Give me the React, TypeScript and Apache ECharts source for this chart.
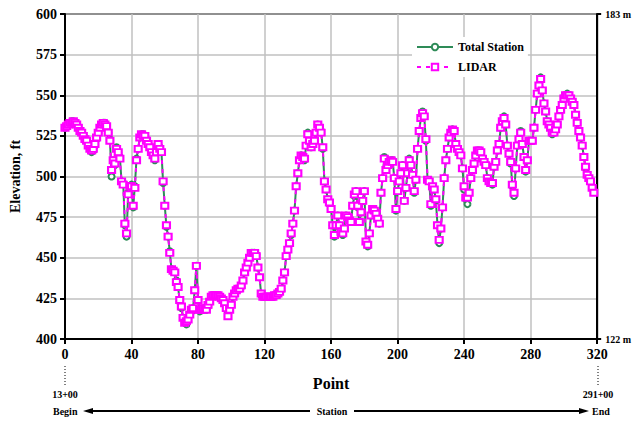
import React, { useEffect, useRef } from "react";
import * as echarts from "echarts";

// Elevation (ft) per survey point, index = point number
const totalStation: number[] = [
  530, 531, 532, 533, 534, 534, 533, 532, 530, 528,
  527, 525, 524, 522, 520, 517, 515, 516, 519, 523,
  527, 530, 532, 533, 533, 531, 527, 523, 500, 510,
  507, 518, 515, 512, 497, 496, 470, 463, 490, 494,
  495, 481, 494, 511, 517, 524, 526, 526, 525, 523,
  520, 518, 516, 513, 510, 515, 520, 518, 515, 496,
  482, 469, 463, 454, 443, 442, 441, 436, 432, 423,
  419, 413, 410, 409, 412, 415, 417, 419, 430, 445,
  424, 417, 418, 418, 419, 418, 420, 423, 426, 427,
  427, 427, 427, 426, 425, 424, 422, 420, 416, 418,
  421, 426, 428, 430, 431, 431, 432, 436, 441, 444,
  446, 450, 453, 453, 453, 452, 444, 438, 427, 426,
  426, 426, 426, 426, 426, 426, 427, 427, 428, 429,
  430, 436, 441, 451, 455, 459, 464, 471, 479, 494,
  502, 510, 513, 512, 510, 519, 527, 522, 518, 520,
  522, 527, 532, 530, 528, 517, 497, 492, 486, 483,
  480, 470, 463, 470, 476, 469, 466, 464, 468, 476,
  474, 473, 472, 482, 488, 491, 481, 472, 478, 485,
  491, 460, 457, 465, 476, 480, 479, 478, 474, 471,
  490, 499, 512, 504, 507, 509, 510, 510, 499, 479,
  491, 497, 502, 507, 485, 493, 502, 511, 507, 501,
  490, 498, 517, 528, 536, 540, 537, 522, 498, 497,
  482, 494, 492, 485, 470, 459, 468, 481, 499, 510,
  517, 524, 527, 529, 528, 520, 517, 515, 513, 505,
  492, 486, 483, 490, 499, 504, 508, 513, 516, 516,
  515, 511, 509, 507, 499, 497, 496, 495, 506, 509,
  516, 520, 530, 534, 537, 532, 519, 514, 508, 494,
  488, 505, 519, 523, 528, 520, 512, 503, 510, 522,
  522, 522, 530, 541, 551, 556, 561, 553, 545, 540,
  534, 532, 530, 526, 527, 529, 532, 537, 541, 544,
  549, 550, 551, 550, 548, 546, 544, 538, 533, 528,
  524, 519, 512, 505, 501, 499, 497, 493, 491
];

const lidar: number[] = [
  530, 531, 532, 533, 533, 534, 533, 532, 530, 528,
  527, 525, 523, 522, 519, 517, 516, 517, 520, 524,
  527, 530, 532, 533, 532, 531, 527, 522, 504, 510,
  508, 517, 515, 511, 497, 495, 471, 465, 489, 494,
  494, 482, 493, 510, 517, 524, 526, 525, 525, 522,
  520, 518, 515, 513, 511, 515, 520, 517, 515, 497,
  482, 470, 463, 453, 443, 442, 441, 435, 432, 424,
  420, 413, 410, 411, 412, 415, 418, 419, 430, 445,
  424, 418, 418, 419, 419, 418, 421, 423, 426, 427,
  427, 427, 427, 426, 425, 424, 422, 419, 414, 418,
  421, 426, 428, 430, 431, 431, 433, 436, 441, 444,
  447, 450, 453, 453, 453, 451, 444, 438, 428, 426,
  426, 426, 426, 426, 426, 426, 427, 427, 428, 429,
  431, 436, 441, 451, 455, 459, 465, 471, 479, 494,
  502, 510, 513, 512, 511, 519, 526, 522, 518, 520,
  522, 527, 532, 530, 527, 518, 497, 492, 486, 484,
  480, 470, 464, 470, 476, 470, 466, 465, 468, 476,
  475, 473, 472, 482, 489, 491, 482, 472, 478, 485,
  491, 460, 458, 465, 476, 480, 479, 477, 474, 471,
  490, 499, 511, 504, 507, 509, 510, 509, 499, 480,
  491, 497, 502, 507, 485, 493, 502, 510, 507, 501,
  491, 498, 517, 528, 536, 539, 537, 523, 498, 497,
  483, 494, 492, 486, 470, 461, 468, 481, 499, 510,
  517, 524, 527, 529, 528, 520, 517, 515, 513, 505,
  494, 487, 487, 490, 499, 504, 508, 513, 516, 516,
  515, 511, 509, 507, 499, 497, 496, 496, 506, 509,
  516, 520, 530, 534, 536, 532, 519, 514, 509, 495,
  490, 505, 519, 523, 527, 520, 512, 504, 510, 522,
  522, 522, 530, 541, 551, 556, 560, 553, 545, 540,
  534, 532, 530, 527, 527, 529, 532, 537, 541, 544,
  548, 550, 550, 550, 548, 546, 544, 538, 533, 528,
  524, 519, 512, 506, 501, 499, 497, 493, 490
];

const xTicks = { min: 0, max: 320, interval: 40 };
const yTicks = { min: 400, max: 600, interval: 25 };
const metricRange = { min: 121.92, max: 182.88 };
const seriesNames = ["Total Station", "LIDAR"];
const stationLabels = { begin: "13+00", end: "291+00" };

const SERIF = '"Liberation Serif", "Times New Roman", serif';

export default function App() {
  const ref = useRef<HTMLDivElement>(null);

  useEffect(() => {
    if (!ref.current) return;
    const chart = echarts.init(ref.current, undefined, { renderer: "svg" });
    const bold = { fontFamily: SERIF, fontWeight: "bold" as const, color: "#000" };

    chart.setOption({
      animation: false,
      backgroundColor: "#fff",
      grid: {
        left: 65,
        right: 36,
        top: 14,
        bottom: 82,
        show: true,
        borderColor: "#000",
        borderWidth: 2,
        backgroundColor: "transparent",
      },
      legend: {
        orient: "vertical",
        left: 412,
        top: 37,
        itemWidth: 36,
        itemHeight: 8,
        itemGap: 8,
        padding: [4, 4, 4, 4],
        backgroundColor: "#fff",
        textStyle: { ...bold, fontSize: 12 },
        data: seriesNames,
      },
      xAxis: {
        type: "value",
        min: xTicks.min,
        max: xTicks.max,
        interval: xTicks.interval,
        name: "Point",
        nameLocation: "middle",
        nameGap: 36,
        nameTextStyle: { ...bold, fontSize: 16 },
        axisLine: { show: true, lineStyle: { color: "#000", width: 2 } },
        axisTick: { show: true, length: 5, lineStyle: { color: "#000", width: 2 } },
        axisLabel: { ...bold, fontSize: 14, margin: 8 },
        splitLine: { show: true, lineStyle: { color: "#c0c0c0", width: 1.5 } },
      },
      yAxis: [
        {
          type: "value",
          min: yTicks.min,
          max: yTicks.max,
          interval: yTicks.interval,
          name: "Elevation, ft",
          nameLocation: "middle",
          nameGap: 43,
          nameRotate: 90,
          nameTextStyle: { ...bold, fontSize: 14 },
          axisLine: { show: true, lineStyle: { color: "#000", width: 2 } },
          axisTick: { show: true, length: 5, lineStyle: { color: "#000", width: 2 } },
          axisLabel: { ...bold, fontSize: 14, margin: 8 },
          splitLine: { show: true, lineStyle: { color: "#c0c0c0", width: 1.5 } },
        },
        {
          type: "value",
          position: "right",
          min: metricRange.min,
          max: metricRange.max,
          interval: metricRange.max - metricRange.min,
          axisLine: { show: true, lineStyle: { color: "#000", width: 2 } },
          axisTick: { show: true, length: 4, lineStyle: { color: "#000", width: 2 } },
          axisLabel: {
            ...bold,
            fontSize: 10,
            margin: 8,
            formatter: (v: number) => `${Math.round(v)} m`,
          },
          splitLine: { show: false },
        },
      ],
      series: [
        {
          name: seriesNames[0],
          type: "line",
          data: totalStation.map((v, i) => [i, v]),
          symbol: "emptyCircle",
          symbolSize: 6,
          showAllSymbol: true,
          lineStyle: { color: "#2E8B57", width: 2 },
          itemStyle: { color: "#2E8B57", borderColor: "#2E8B57", borderWidth: 1.5 },
          z: 2,
        },
        {
          name: seriesNames[1],
          type: "line",
          data: lidar.map((v, i) => [i, v]),
          symbol: "emptyRect",
          symbolSize: [7, 6],
          showAllSymbol: true,
          lineStyle: { color: "#FF00FF", width: 2, type: [4, 5] },
          itemStyle: { color: "#FF00FF", borderColor: "#FF00FF", borderWidth: 2 },
          z: 3,
        },
      ],
      graphic: [
        { type: "line", shape: { x1: 65, y1: 366, x2: 65, y2: 386 }, style: { stroke: "#000", lineWidth: 1, lineDash: [1, 2] } },
        { type: "line", shape: { x1: 598, y1: 366, x2: 598, y2: 386 }, style: { stroke: "#000", lineWidth: 1, lineDash: [1, 2] } },
        { type: "text", x: 65, y: 394, style: { text: stationLabels.begin, ...bold, fill: "#000", fontSize: 10, align: "center", verticalAlign: "middle", font: `bold 10px ${SERIF}` } },
        { type: "text", x: 598, y: 394, style: { text: stationLabels.end, fill: "#000", align: "center", verticalAlign: "middle", font: `bold 10px ${SERIF}` } },
        { type: "text", x: 53, y: 411, style: { text: "Begin", fill: "#000", align: "left", verticalAlign: "middle", font: `bold 10px ${SERIF}` } },
        { type: "text", x: 332, y: 411, style: { text: "Station", fill: "#000", align: "center", verticalAlign: "middle", font: `bold 10px ${SERIF}` } },
        { type: "text", x: 592, y: 411, style: { text: "End", fill: "#000", align: "left", verticalAlign: "middle", font: `bold 10px ${SERIF}` } },
        { type: "line", shape: { x1: 90, y1: 411, x2: 310, y2: 411 }, style: { stroke: "#000", lineWidth: 2 } },
        { type: "polygon", shape: { points: [[83, 411], [93, 408], [93, 414]] }, style: { fill: "#000" } },
        { type: "line", shape: { x1: 354, y1: 411, x2: 582, y2: 411 }, style: { stroke: "#000", lineWidth: 2 } },
        { type: "polygon", shape: { points: [[589, 411], [579, 408], [579, 414]] }, style: { fill: "#000" } },
      ],
    });

    return () => chart.dispose();
  }, []);

  return (
    <div
      ref={ref}
      style={{ position: "fixed", left: 0, top: 0, width: 634, height: 421, background: "#fff" }}
    />
  );
}
